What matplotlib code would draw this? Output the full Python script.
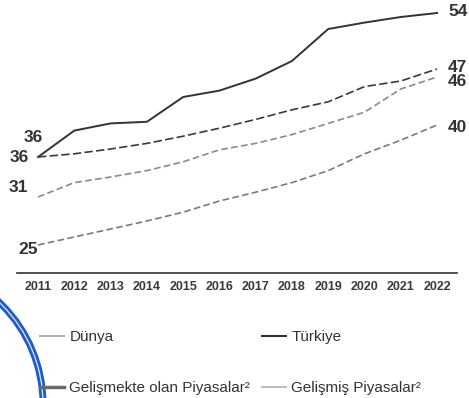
import matplotlib
matplotlib.use("Agg")
import matplotlib.pyplot as plt
from matplotlib.lines import Line2D
from matplotlib.patches import Ellipse

years = list(range(2011, 2023))

turkiye = [36, 39.3, 40.2, 40.4, 43.5, 44.3, 45.8, 48.0, 52.0, 52.8, 53.5, 54]
gelismis = [36, 36.4, 37.0, 37.7, 38.6, 39.6, 40.7, 41.9, 42.9, 44.8, 45.5, 47]
dunya = [31, 32.8, 33.5, 34.3, 35.4, 36.9, 37.7, 38.8, 40.2, 41.6, 44.5, 46]
gelismekte = [25, 26.0, 27.0, 28.0, 29.1, 30.5, 31.6, 32.8, 34.3, 36.4, 38.1, 40]

legend_labels = ["Dünya", "Gelişmekte olan Piyasalar²", "Türkiye", "Gelişmiş Piyasalar²"]

sans = ["Liberation Sans", "DejaVu Sans"]

fig = plt.figure(figsize=(4.69, 3.98), dpi=100)
ax = fig.add_axes([17 / 469, 125 / 398, 440 / 469, 273 / 398])

ax.plot(years, turkiye, color="#333333", lw=1.4)
ax.plot(years, gelismis, color="#3a3a3a", lw=1.2, dashes=(5, 2))
ax.plot(years, dunya, color="#8a8a8a", lw=1.2, dashes=(4, 2))
ax.plot(years, gelismekte, color="#7a7a7a", lw=1.2, dashes=(4, 2))

ax.set_xlim(2010.42, 2022.55)
ax.set_ylim(21.5, 55.625)

for s in ["top", "right", "left"]:
    ax.spines[s].set_visible(False)
ax.spines["bottom"].set_color("#333333")
ax.spines["bottom"].set_linewidth(1.2)
ax.set_yticks([])
ax.set_xticks(years)
ax.set_xticklabels([str(y) for y in years], family=sans, fontsize=9,
                   fontweight="bold", color="#3a3a3a")
ax.tick_params(axis="x", length=0, pad=6)

# start / end value labels
label_kw = dict(textcoords="offset pixels", family=sans, fontweight="bold",
                fontsize=12.5, color="#333333", va="center")
ax.annotate(f"{turkiye[0]:.0f}", (years[0], turkiye[0]), xytext=(-5, 20), ha="center", **label_kw)
ax.annotate(f"{gelismis[0]:.0f}", (years[0], gelismis[0]), xytext=(-19, 0), ha="center", **label_kw)
ax.annotate(f"{dunya[0]:.0f}", (years[0], dunya[0]), xytext=(-20, 10), ha="center", **label_kw)
ax.annotate(f"{gelismekte[0]:.0f}", (years[0], gelismekte[0]), xytext=(-10, -4), ha="center", **label_kw)
ax.annotate(f"{turkiye[-1]:.0f}", (years[-1], turkiye[-1]), xytext=(11, 1), ha="left", **label_kw)
ax.annotate(f"{gelismis[-1]:.0f}", (years[-1], gelismis[-1]), xytext=(11, 1), ha="left", **label_kw)
ax.annotate(f"{dunya[-1]:.0f}", (years[-1], dunya[-1]), xytext=(11, -5), ha="left", **label_kw)
ax.annotate(f"{gelismekte[-1]:.0f}", (years[-1], gelismekte[-1]), xytext=(11, -2), ha="left", **label_kw)

handles = [
    Line2D([], [], color="#b0b0b0", lw=1.5),
    Line2D([], [], color="#6a6a6a", lw=2.5),
    Line2D([], [], color="#333333", lw=1.5),
    Line2D([], [], color="#c0c0c0", lw=1.5),
]
fig.legend(handles, legend_labels, ncol=2, loc="upper left",
           bbox_to_anchor=(40 / 469, 1 - 330 / 398), frameon=False,
           prop={"family": sans, "size": 11},
           labelcolor="#333333", handlelength=1.6, handletextpad=0.33,
           columnspacing=0.75, labelspacing=2.45, borderpad=0, borderaxespad=0)

# blue ring in the lower left corner
ring_c = (-97 / 469, -6 / 398)
fig.add_artist(Ellipse(ring_c, 2 * 140 / 469, 2 * 140 / 398, transform=fig.transFigure,
                       fill=False, ec="#1f5cc8", lw=5))
fig.add_artist(Ellipse(ring_c, 2 * 140 / 469, 2 * 140 / 398, transform=fig.transFigure,
                       fill=False, ec="#dfe8f8", lw=0.9))

fig.savefig("out.png", dpi=100)
